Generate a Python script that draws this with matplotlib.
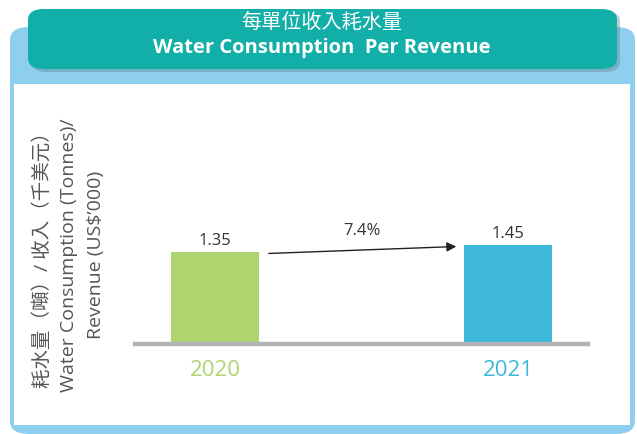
import matplotlib
matplotlib.use("Agg")
import matplotlib.pyplot as plt
from matplotlib.patches import FancyBboxPatch

plt.rcParams['font.family'] = ['Open Sans', 'Noto Sans CJK TC', 'DejaVu Sans']

# data
years = ['2020', '2021']
values = [1.35, 1.45]
change_label = '7.4%'
bar_colors = ['#add46e', '#3db8da']
title_zh = '每單位收入耗水量'
title_en = 'Water Consumption  Per Revenue'
ylabel_lines = ['耗水量（噸）/ 收入（千美元）',
                'Water Consumption (Tonnes)/',
                'Revenue (US$\u2019000)']

W, H = 637, 435
fig = plt.figure(figsize=(W / 100, H / 100), dpi=100)


def fx(px):
    return px / W


def fy(py):
    return 1 - py / H


# light blue panel with white inside
fig.patches.append(FancyBboxPatch((fx(10), fy(435)), fx(625), fy(28) - fy(435),
                                  boxstyle="round,pad=0,rounding_size=0.03",
                                  transform=fig.transFigure, fc='#8ecff0', ec='none', zorder=0))
fig.patches.append(FancyBboxPatch((fx(14), fy(426)), fx(616), fy(85) - fy(426),
                                  boxstyle="square,pad=0",
                                  transform=fig.transFigure, fc='white', ec='none', zorder=1))
# header shadow + teal header
fig.patches.append(FancyBboxPatch((fx(31), fy(73)), fx(589), fy(12) - fy(73),
                                  boxstyle="round,pad=0,rounding_size=0.025",
                                  transform=fig.transFigure, fc='#5a7f8a', alpha=0.4,
                                  ec='none', zorder=2))
fig.patches.append(FancyBboxPatch((fx(28), fy(70)), fx(589), fy(10) - fy(70),
                                  boxstyle="round,pad=0,rounding_size=0.025",
                                  transform=fig.transFigure, fc='#12aea8', ec='none', zorder=3))
fig.text(fx(322), fy(23), title_zh, color='white', fontsize=14.5,
         ha='center', va='center', zorder=4)
fig.text(fx(322), fy(48), title_en, color='white', fontsize=14.5, fontweight='bold',
         ha='center', va='center', zorder=4)

# chart axes
ax = fig.add_axes([fx(135), fy(345), fx(588) - fx(135), fy(140) - fy(345)])
ax.set_zorder(5)
ax.patch.set_alpha(0)
x = [0, 1]
ax.bar(x, values, width=0.30, color=bar_colors, zorder=2)
ax.axhline(0, color='#b3b3b8', lw=3.2, zorder=3, clip_on=False)
ax.set_xlim(-0.273, 1.273)
ax.set_ylim(0, 205 / 68)
ax.axis('off')

for xi, v, yr, c in zip(x, values, years, bar_colors):
    ax.text(xi, v + 0.06, f'{v:.2f}', ha='center', va='bottom', fontsize=12, color='#333333')
    ax.text(xi, -0.37, yr, ha='center', va='center', fontsize=16, color=c)

ax.annotate('', xy=(0.833, values[1] - 0.015), xytext=(0.174, values[0] - 0.02),
            arrowprops=dict(arrowstyle='-|>', color='#222222', lw=1.0, mutation_scale=14))
ax.text(0.5, 1.56, change_label, ha='center', va='bottom', fontsize=12, color='#333333')

# y label lines
for px, line in zip([42, 69, 96], ylabel_lines):
    fig.text(fx(px), fy(255), line, rotation=90, ha='center', va='center',
             fontsize=14, color='#555555')

fig.savefig('out.png', dpi=100)
